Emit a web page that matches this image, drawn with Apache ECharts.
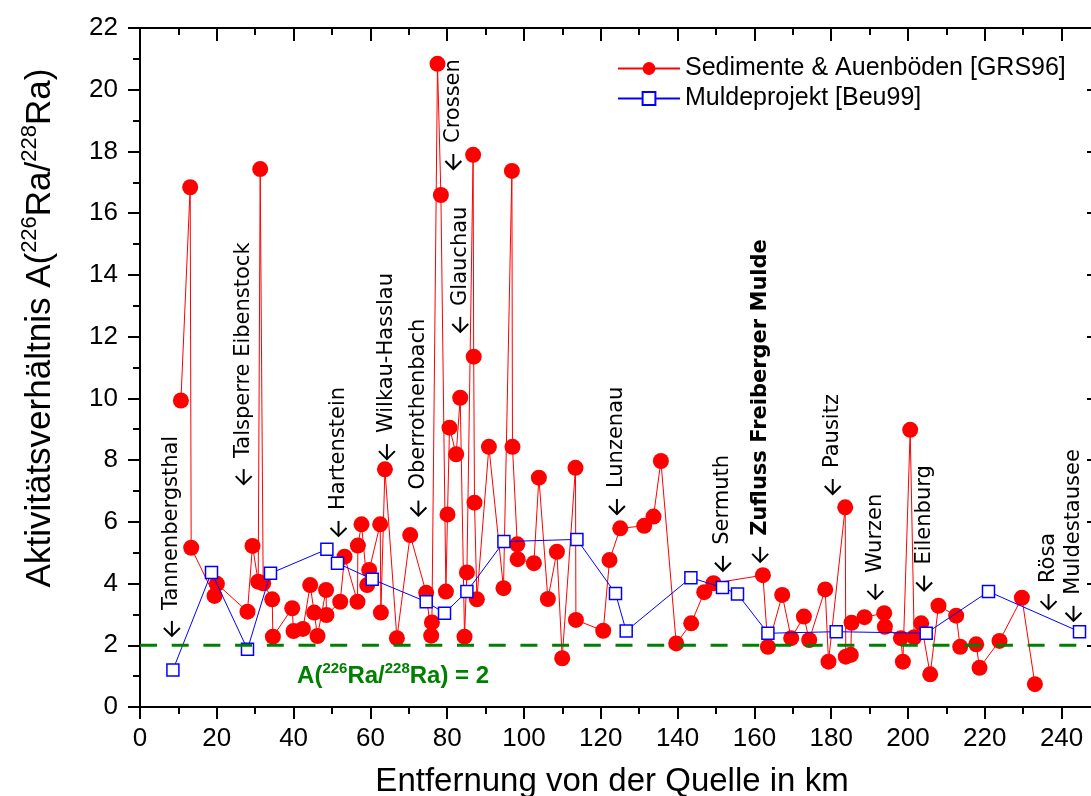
<!DOCTYPE html>
<html>
<head>
<meta charset="utf-8">
<title>Aktivitätsverhältnis Ra-226 / Ra-228 entlang der Mulde</title>
<script src="https://cdn.jsdelivr.net/npm/echarts@6/dist/echarts.min.js"></script>
<style>
    html, body { margin: 0; padding: 0; background: #fff; }
    #chart { width: 1091px; height: 796px; }
</style>
</head>
<body>
<div id="chart"></div>
<script>
/* Sedimente & Auenböden [GRS96] */
var sedKm = [10.65, 13.07, 13.33, 19.40, 20.03, 27.99, 29.30, 30.78, 31.30, 32.08,
    34.43, 34.61, 39.64, 39.97, 42.42, 44.32, 45.36, 46.22, 48.45, 48.55,
    52.14, 53.26, 56.64, 56.74, 57.68, 59.17, 59.69, 62.55, 62.73, 63.78,
    66.90, 70.36, 74.53, 75.83, 76.02, 77.47, 78.36, 79.66, 80.08, 80.60,
    82.34, 83.39, 84.51, 85.13, 86.75, 86.90, 87.11, 87.73, 90.86, 94.66,
    96.85, 97.00, 98.25, 98.35, 102.58, 103.88, 106.22, 108.57, 109.95, 113.41,
    113.52, 120.63, 122.27, 125.05, 131.30, 133.72, 135.65, 139.64, 143.54, 146.93,
    149.35, 162.21, 163.52, 167.24, 169.58, 172.89, 174.27, 178.44, 179.30, 183.65,
    183.80, 185.10, 185.30, 188.67, 193.80, 193.98, 198.15, 198.67, 200.57, 201.61,
    203.44, 205.78, 207.94, 212.55, 213.59, 217.76, 218.62, 223.83, 229.66, 233.05];
var sedRatio = [9.93, 16.84, 5.16, 3.60, 3.99, 3.09, 5.22, 4.06, 17.43, 4.01,
    3.49, 2.28, 3.20, 2.46, 2.53, 3.95, 3.06, 2.30, 3.79, 2.98,
    3.41, 4.87, 3.41, 5.23, 5.92, 3.95, 4.44, 5.92, 3.06, 7.70,
    2.23, 5.57, 3.70, 2.31, 2.74, 20.84, 16.59, 3.74, 6.24, 9.05,
    8.19, 10.02, 2.28, 4.36, 17.89, 11.35, 6.62, 3.49, 8.43, 3.85,
    17.37, 8.43, 5.27, 4.79, 4.66, 7.43, 3.50, 5.03, 1.58, 7.75,
    2.82, 2.47, 4.76, 5.79, 5.87, 6.17, 7.97, 2.06, 2.71, 3.72,
    4.01, 4.27, 1.95, 3.63, 2.23, 2.93, 2.17, 3.81, 1.47, 6.47,
    1.63, 1.69, 2.73, 2.91, 3.04, 2.60, 2.23, 1.47, 8.98, 2.26,
    2.71, 1.06, 3.28, 2.96, 1.95, 2.03, 1.27, 2.14, 3.54, 0.74];

/* Muldeprojekt [Beu99] */
var muldeKm = [8.57, 18.62, 27.99, 33.98, 48.67, 51.43, 60.47, 74.53, 79.30, 85.13,
    94.77, 113.78, 123.83, 126.61, 143.46, 151.69, 155.60, 163.52, 181.30, 204.74,
    220.96, 244.66];
var muldeRatio = [1.20, 4.36, 1.87, 4.33, 5.11, 4.66, 4.14, 3.41, 3.04, 3.74,
    5.36, 5.43, 3.68, 2.46, 4.19, 3.87, 3.66, 2.39, 2.44, 2.39,
    3.74, 2.44];

/* Grenzwert A = 2 */
var limitKm = [0, 250];
var limitRatio = 2;
var limitLabelKm = 40.9;
var limitLabelRatio = 0.98;

/* Orte entlang der Mulde (Pfeilspitze bei km / Verhältnis) */
var placeNames = ["Tannenbergsthal", "Talsperre Eibenstock", "Hartenstein", "Wilkau-Hasslau",
    "Oberrothenbach", "Crossen", "Glauchau", "Lunzenau", "Sermuth", "Zufluss Freiberger Mulde",
    "Pausitz", "Wurzen", "Eilenburg", "Rösa", "Muldestausee"];
var placeKm = [8.3, 27.0, 51.7, 64.3, 72.5, 81.6, 83.4, 124.2, 151.8, 161.5,
    180.4, 191.5, 204.2, 236.6, 243.1];
var placeLevel = [2.27, 7.19, 5.51, 8.0, 6.17, 17.4, 12.12, 6.22, 4.38, 4.67,
    6.87, 3.47, 3.74, 3.14, 2.76];
var placeBold = [false, false, false, false, false, false, false, false, false, true,
    false, false, false, false, false];

var sedName = "Sedimente & Auenböden [GRS96]";
var muldeName = "Muldeprojekt [Beu99]";

function pairs(xs, ys) {
    return xs.map(function (x, i) { return [x, ys[i]]; });
}

var axisFont = "Liberation Sans, Arial, sans-serif";
var placeFont = "DejaVu Sans, sans-serif";
var black = "#000";

function frameAxis(extra) {
    var ax = {
        type: "value",
        axisLine: { show: true, onZero: false, lineStyle: { color: black, width: 2 } },
        axisTick: { show: true, length: 12, lineStyle: { color: black, width: 2 } },
        minorTick: { show: true, splitNumber: 2, length: 7, lineStyle: { color: black, width: 2 } },
        splitLine: { show: false },
        minorSplitLine: { show: false }
    };
    for (var k in extra) ax[k] = extra[k];
    return ax;
}

var myChart = echarts.init(document.getElementById("chart"), null, { renderer: "canvas" });

var option = {
    animation: false,
    backgroundColor: "#fff",
    grid: { left: 140, top: 28, width: 960, height: 679, containLabel: false, outerBoundsMode: "none" },
    legend: {
        data: [sedName, muldeName],
        orient: "vertical",
        left: 612,
        top: 51,
        itemWidth: 62,
        itemHeight: 16,
        itemGap: 5,
        selectedMode: false,
        textStyle: { fontSize: 25, fontFamily: axisFont, color: black }
    },
    xAxis: [
        frameAxis({
            position: "bottom", min: 0, max: 250, interval: 20,
            axisLabel: { fontSize: 26, fontFamily: axisFont, color: black, margin: 19, showMaxLabel: false },
            name: "Entfernung von der Quelle in km",
            nameLocation: "middle",
            nameGap: 58,
            nameTextStyle: { fontSize: 33, fontFamily: axisFont, color: black, padding: [0, 16, 0, 0] }
        }),
        frameAxis({
            position: "top", min: 0, max: 250, interval: 20,
            axisTick: { show: true, inside: true, length: 13, lineStyle: { color: black, width: 2 } },
            axisLabel: { show: false }
        })
    ],
    yAxis: [
        frameAxis({
            position: "left", min: 0, max: 22, interval: 2,
            axisLabel: { fontSize: 26, fontFamily: axisFont, color: black, margin: 22 }
        }),
        frameAxis({
            position: "right", min: 0, max: 22, interval: 2,
            axisTick: { show: true, inside: true, length: 13, lineStyle: { color: black, width: 2 } },
            axisLabel: { show: false }
        })
    ],
    graphic: [{
        // y-Achsentitel mit hochgestellten Massenzahlen
        type: "text",
        x: 40,
        y: 328,
        rotation: Math.PI / 2,
        style: {
            text: "Aktivitätsverhältnis A({sup|226}Ra/{sup|228}Ra)",
            fontSize: 35,
            fontFamily: axisFont,
            fill: black,
            lineHeight: 42,
            align: "center",
            verticalAlign: "middle",
            rich: { sup: { fontSize: 22, lineHeight: 22, verticalAlign: "top", fontFamily: axisFont, fill: black } }
        }
    }],
    series: [
        {
            name: sedName,
            type: "line",
            data: pairs(sedKm, sedRatio),
            symbol: "circle",
            symbolSize: 16,
            showAllSymbol: true,
            itemStyle: { color: "#ff0000" },
            lineStyle: { color: "#ff0000", width: 1 },
            z: 2
        },
        {
            name: muldeName,
            type: "line",
            data: pairs(muldeKm, muldeRatio),
            symbol: "rect",
            symbolSize: 12,
            showAllSymbol: true,
            itemStyle: { color: "#ffffff", borderColor: "#0000ff", borderWidth: 1.5 },
            lineStyle: { color: "#0000ff", width: 1 },
            z: 3
        },
        {
            name: "Grenzwert",
            type: "line",
            data: limitKm.map(function (km) { return [km, limitRatio]; }),
            showSymbol: false,
            silent: true,
            lineStyle: { color: "#008000", width: 3, type: [17, 14.7] },
            z: 4
        },
        {
            // Beschriftung der Grenzlinie
            name: "GrenzwertText",
            type: "custom",
            silent: true,
            clip: false,
            z: 5,
            data: [[limitLabelKm, limitLabelRatio]],
            renderItem: function (params, api) {
                var p = api.coord([api.value(0), api.value(1)]);
                return {
                    type: "text",
                    x: p[0],
                    y: p[1],
                    style: {
                        text: "A({sup|226}Ra/{sup|228}Ra) = 2",
                        fontSize: 24,
                        fontWeight: "bold",
                        fontFamily: axisFont,
                        fill: "#008000",
                        lineHeight: 30,
                        align: "left",
                        verticalAlign: "middle",
                        rich: { sup: { fontSize: 15, lineHeight: 15, fontWeight: "bold", verticalAlign: "top", fontFamily: axisFont, fill: "#008000" } }
                    }
                };
            }
        },
        {
            // Ortsnamen mit Pfeil nach unten, Text um 90 Grad gedreht
            name: "Orte",
            type: "custom",
            silent: true,
            clip: false,
            z: 6,
            data: pairs(placeKm, placeLevel),
            renderItem: function (params, api) {
                var i = params.dataIndex;
                var p = api.coord([api.value(0), api.value(1)]);
                var x = p[0], y = p[1];
                var arrowStyle = { stroke: black, lineWidth: 2, fill: null };
                return {
                    type: "group",
                    children: [
                        { type: "polyline", shape: { points: [[x, y - 16], [x, y - 1]] }, style: arrowStyle },
                        { type: "polyline", shape: { points: [[x - 8, y - 9], [x, y - 1], [x + 8, y - 9]] }, style: arrowStyle },
                        {
                            type: "text",
                            x: x,
                            y: y - 27,
                            rotation: Math.PI / 2,
                            style: {
                                text: placeNames[i],
                                fontSize: 21,
                                fontWeight: placeBold[i] ? "bold" : "normal",
                                fontFamily: placeFont,
                                fill: black,
                                align: "left",
                                verticalAlign: "middle"
                            }
                        }
                    ]
                };
            }
        }
    ]
};

myChart.setOption(option);
</script>
</body>
</html>
